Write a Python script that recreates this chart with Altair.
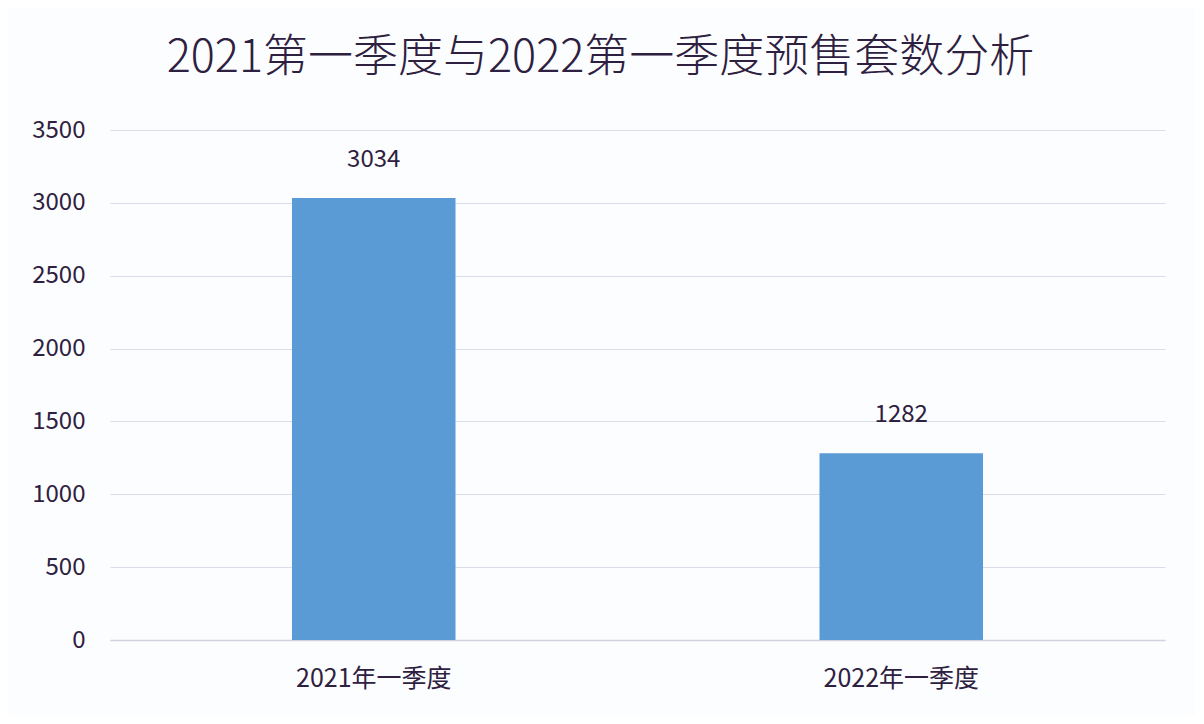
import altair as alt
import pandas as pd

categories = ["2021年一季度", "2022年一季度"]
values = [3034, 1282]
title_text = "2021第一季度与2022第一季度预售套数分析"

df = pd.DataFrame({"cat": categories, "val": values})

FONT = "Noto Sans CJK SC"
TXT = "#2e2040"

base = alt.Chart(df).encode(
    x=alt.X("cat:N", sort=categories, title=None,
            scale=alt.Scale(paddingInner=0.69, paddingOuter=0.345),
            axis=alt.Axis(labelAngle=0, labelFontSize=25, labelFont=FONT, labelColor=TXT,
                          labelPadding=26, ticks=False, domainColor="#cfd4e0", domainWidth=1.5)),
    y=alt.Y("val:Q", title=None,
            scale=alt.Scale(domain=[0, 3500]),
            axis=alt.Axis(values=[0, 500, 1000, 1500, 2000, 2500, 3000, 3500], format="d",
                          labelFontSize=24, labelFont=FONT, labelColor=TXT, labelPadding=25,
                          ticks=False, domain=False, gridColor="#d8dde8", gridWidth=1.2)),
)

bars = base.mark_bar(color="#5B9BD5")
labels = base.mark_text(dy=-26, fontSize=24, font=FONT, color=TXT, baseline="bottom").encode(
    text=alt.Text("val:Q"))

chart = (bars + labels).properties(
    width=1055, height=510,
    title=alt.TitleParams(title_text, fontSize=45, font=FONT, color=TXT, fontWeight=300,
                          anchor="middle", offset=37, dx=-37),
    autosize=alt.AutoSizeParams(type="none"),
    padding={"left": 102, "top": 122, "right": 30, "bottom": 76},
    background="#fcfdfe",
).configure_view(stroke=None)

chart.save("out.html", embed_options={"renderer": "svg", "actions": False})
